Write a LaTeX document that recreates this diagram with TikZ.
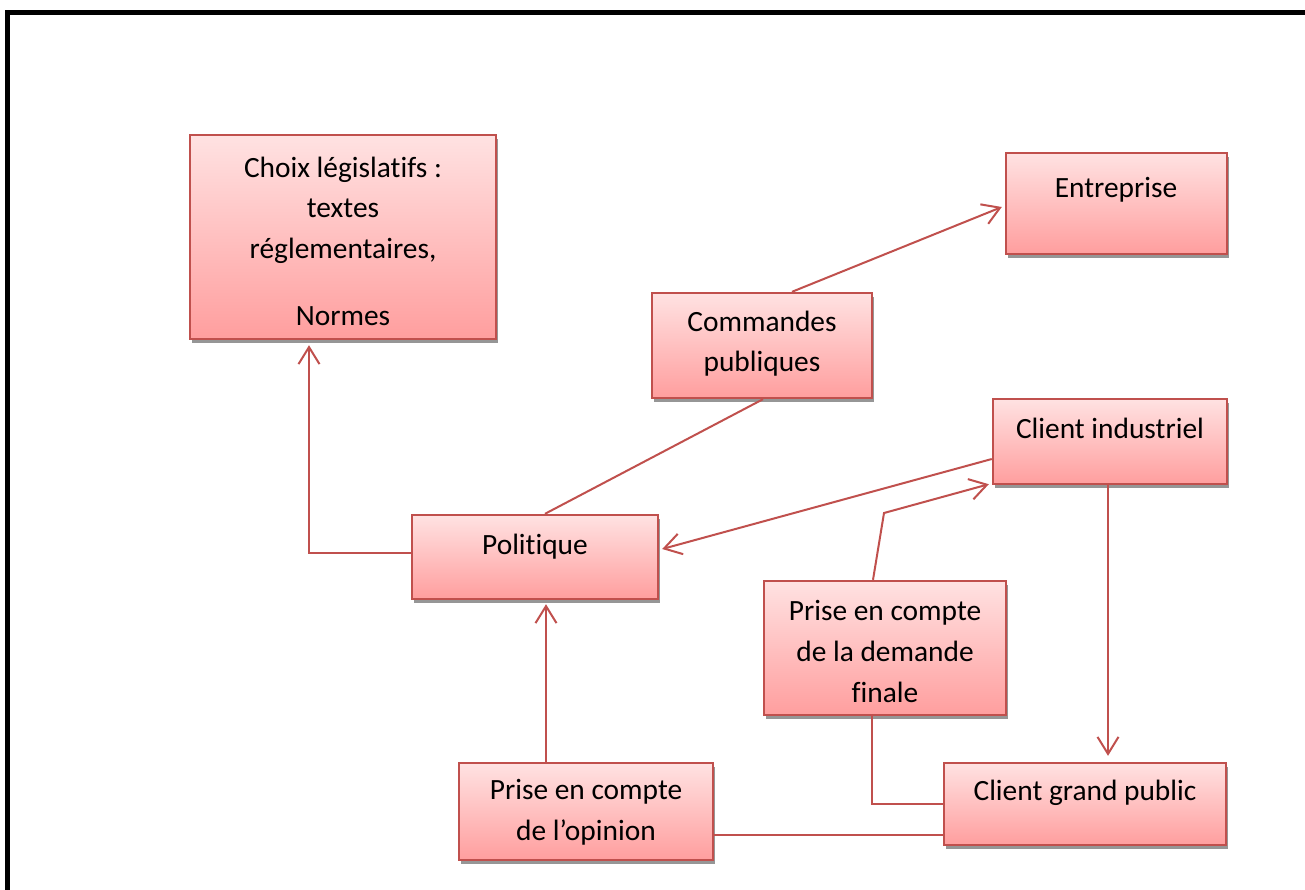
\documentclass[tikz,border=0pt]{standalone}
\usepackage{fontspec}
\setmainfont{Carlito}[Ligatures=NoCommon]
\usetikzlibrary{arrows.meta,fit,shadows}
\definecolor{boxline}{RGB}{192,80,77}
\definecolor{boxtop}{RGB}{255,226,226}
\definecolor{boxbot}{RGB}{255,158,158}
\definecolor{shadowgray}{RGB}{150,150,150}
\tikzset{
  pbox/.style={draw=boxline, line width=1.2pt, top color=boxtop, bottom color=boxbot,
    inner sep=0pt, general shadow={fill=shadowgray, shadow xshift=1pt, shadow yshift=-2pt}},
  ptext/.style={align=center, inner sep=0pt, font=\fontsize{14.7}{20.3}\selectfont},
  conn/.style={draw=boxline, line width=1pt},
  arr/.style={conn, -{Straight Barb[length=8.5pt,width=10.5pt]}},
}
\begin{document}
\begin{tikzpicture}[x=0.5pt,y=-0.5pt]
\useasboundingbox (0,0) rectangle (1305,889);
% frame
\draw[line width=2.5pt, black] (7.5,900) -- (7.5,12.5) -- (1320,12.5);
% boxes
\node[pbox, fit={(190,135)(496,339)}] (choix) {};
\node[pbox, fit={(1006,153)(1227,254)}] (entr) {};
\node[pbox, fit={(652,293)(872,398)}] (comm) {};
\node[pbox, fit={(412,515)(658,599)}] (poli) {};
\node[pbox, fit={(993,399)(1227,484)}] (cind) {};
\node[pbox, fit={(764,581)(1006,715)}] (pdem) {};
\node[pbox, fit={(944,763)(1226,845)}] (cgp) {};
\node[pbox, fit={(459,763)(713,860)}] (popi) {};
% texts
\node[ptext] (choixT) at (343,241) {Choix législatifs :\\textes\\réglementaires,\\[13pt]Normes};
\node[ptext] (entrT) at (1116,190) {Entreprise};
\node[ptext] (commT) at (762,343.5) {Commandes\\publiques};
\node[ptext] (poliT) at (535,547) {Politique};
\node[ptext] (cindT) at (1110,428) {Client industriel};
\node[ptext] (pdemT) at (885,651.5) {Prise en compte\\de la demande\\finale};
\node[ptext] (cgpT) at (1085,793) {Client grand public};
\node[ptext] (popiT) at (586,812.5) {Prise en compte\\de l’opinion};
% connectors
\draw[arr] ([yshift=2pt]poli.west) -| ([xshift=-17pt,yshift=-2.5pt]choix.south);
\draw[conn] ([xshift=5pt]poli.north) -- ([xshift=0.5pt]comm.south);
\draw[arr] ([xshift=15pt]comm.north) -- ([xshift=-1.5pt,yshift=-1.75pt]entr.west);
\draw[arr] ([yshift=-8.75pt]cind.west) -- ([xshift=1.5pt,yshift=4pt]poli.east);
\coordinate (bend) at (884,513);
\draw[arr] ([xshift=-6pt]pdem.north) -- (bend) -- ([xshift=-1.5pt,yshift=0.5pt]cind.south west);
\coordinate (d1) at ([xshift=-1pt]cind.south);
\draw[arr, shorten >=3pt] (d1) -- (d1 |- cgp.north);
\draw[conn] ([xshift=-6.5pt]pdem.south) |- (cgp.west);
\coordinate (g1) at ([yshift=-15.5pt]cgp.west);
\draw[conn] (g1) -- (g1 -| popi.east);
\coordinate (o1) at ([xshift=-20pt]popi.north);
\draw[arr, shorten >=2pt] (o1) -- (o1 |- poli.south);
\end{tikzpicture}
\end{document}
